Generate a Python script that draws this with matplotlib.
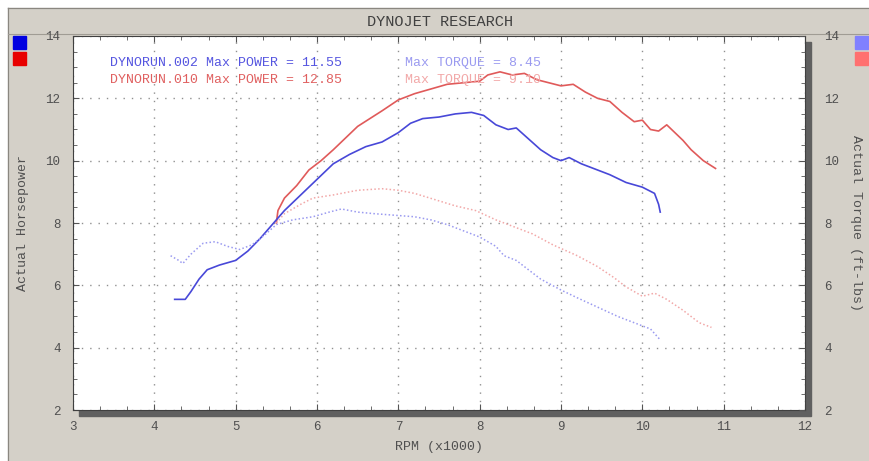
import numpy as np
import matplotlib.pyplot as plt
from matplotlib.patches import Rectangle
from matplotlib.lines import Line2D

# run 002 (blue) - power
rpm_p002 = [4.25, 4.38, 4.45, 4.55, 4.65, 4.8, 5.0, 5.15, 5.3, 5.45, 5.6, 5.8, 6.0, 6.2, 6.4,
            6.6, 6.8, 7.0, 7.15, 7.3, 7.5, 7.7, 7.9, 8.05, 8.2, 8.35, 8.45, 8.6, 8.75, 8.9,
            9.0, 9.1, 9.25, 9.4, 9.6, 9.8, 10.0, 10.15, 10.2, 10.22]
hp_002 = [5.55, 5.55, 5.8, 6.2, 6.5, 6.65, 6.8, 7.1, 7.5, 7.95, 8.4, 8.9, 9.4, 9.9, 10.2,
          10.45, 10.6, 10.9, 11.2, 11.35, 11.4, 11.5, 11.55, 11.45, 11.15, 11.0, 11.05, 10.7, 10.35, 10.1,
          10.0, 10.1, 9.9, 9.75, 9.55, 9.3, 9.15, 8.95, 8.6, 8.35]

# run 010 (red) - power
rpm_p010 = [5.5, 5.52, 5.6, 5.75, 5.9, 6.05, 6.2, 6.5, 6.8, 7.0, 7.2, 7.4, 7.6, 7.8, 8.0,
            8.1, 8.25, 8.4, 8.55, 8.7, 8.85, 9.0, 9.15, 9.3, 9.45, 9.6, 9.75, 9.9, 10.0, 10.1,
            10.2, 10.3, 10.4, 10.5, 10.6, 10.75, 10.9]
hp_010 = [8.0, 8.4, 8.8, 9.2, 9.7, 10.0, 10.35, 11.1, 11.6, 11.95, 12.15, 12.3, 12.45, 12.5, 12.55,
          12.75, 12.85, 12.75, 12.8, 12.6, 12.5, 12.4, 12.45, 12.2, 12.0, 11.9, 11.55, 11.25, 11.3, 11.0,
          10.95, 11.15, 10.9, 10.65, 10.35, 10.0, 9.75]

# torque curves
rpm_t002 = [4.2, 4.3, 4.35, 4.45, 4.6, 4.75, 4.9, 5.05, 5.2, 5.35, 5.5, 5.7, 5.95, 6.15, 6.3,
            6.5, 6.7, 6.95, 7.2, 7.4, 7.6, 7.8, 8.0, 8.2, 8.3, 8.45, 8.6, 8.75, 9.0, 9.2,
            9.45, 9.7, 9.95, 10.1, 10.22]
tq_002 = [6.95, 6.8, 6.7, 7.0, 7.35, 7.4, 7.25, 7.15, 7.3, 7.6, 7.95, 8.1, 8.2, 8.35, 8.45,
          8.35, 8.3, 8.25, 8.2, 8.1, 7.95, 7.75, 7.55, 7.25, 6.95, 6.8, 6.5, 6.2, 5.85, 5.6,
          5.3, 5.0, 4.75, 4.6, 4.25]

rpm_t010 = [5.5, 5.6, 5.8, 5.95, 6.2, 6.5, 6.8, 7.0, 7.2, 7.45, 7.7, 7.95, 8.2, 8.45, 8.65,
            8.9, 9.2, 9.45, 9.65, 9.8, 10.0, 10.15, 10.3, 10.5, 10.7, 10.85]
tq_010 = [8.0, 8.3, 8.6, 8.8, 8.9, 9.05, 9.1, 9.05, 8.95, 8.75, 8.55, 8.4, 8.1, 7.85, 7.65,
          7.3, 6.95, 6.6, 6.25, 5.95, 5.65, 5.75, 5.55, 5.2, 4.8, 4.65]

x_ticks = [3, 4, 5, 6, 7, 8, 9, 10, 11, 12]
y_ticks = [2, 4, 6, 8, 10, 12, 14]

BG = '#d4d0c8'
FONT = ['Liberation Mono', 'DejaVu Sans Mono']
plt.rcParams['font.family'] = FONT

W, H = 869, 461
fig = plt.figure(figsize=(W / 100, H / 100), dpi=100)
fig.patch.set_facecolor(BG)

def px(x0, y0, w, h):
    # pixel box (top-left origin) -> figure fraction rect
    return (x0 / W, 1 - (y0 + h) / H, w / W, h / H)

# white outer strips + border lines
fig.add_artist(Rectangle((0, 1 - 8 / H), 1, 8 / H, transform=fig.transFigure, color='white', zorder=0))
fig.add_artist(Rectangle((0, 0), 8 / W, 1, transform=fig.transFigure, color='white', zorder=0))
fig.add_artist(Line2D([8 / W, 1], [1 - 8 / H] * 2, transform=fig.transFigure, color='#8a8780', lw=1))
fig.add_artist(Line2D([8 / W] * 2, [0, 1 - 8 / H], transform=fig.transFigure, color='#8a8780', lw=1))
fig.add_artist(Line2D([8 / W, 1], [1 - 34 / H] * 2, transform=fig.transFigure, color='#a09c94', lw=0.8))
fig.text(440 / W, 1 - 22 / H, 'DYNOJET RESEARCH', ha='center', va='center', fontsize=11, color='#404040')

# plot area
L, T, R, B = 73, 36, 805, 410
# shadow
fig.add_artist(Rectangle(px(L + 6, T + 6, R - L, B - T)[:2], (R - L) / W, (B - T) / H,
                         transform=fig.transFigure, color='#606060', zorder=1))
ax = fig.add_axes(px(L, T, R - L, B - T))
ax.set_zorder(2)
ax.set_facecolor('white')
ax.set_xlim(3, 12)
ax.set_ylim(2, 14)
ax.set_xticks(x_ticks)
ax.set_yticks(y_ticks)
ax.set_xticks(np.arange(3, 12.01, 0.333333), minor=True)
ax.set_yticks(np.arange(2, 14.01, 0.5), minor=True)
ax.grid(True, which='major', color='#909090', linestyle=(0, (1, 5)), lw=1)
ax.tick_params(which='both', direction='in', colors='#555555', labelsize=9, labelcolor='#505050',
               top=True, right=False)
ax.tick_params(which='major', length=4)
ax.tick_params(axis='y', which='major', pad=9)
ax.tick_params(axis='x', which='major', pad=8)
ax.tick_params(which='minor', length=3)
for s in ax.spines.values():
    s.set_color('#404040')
    s.set_linewidth(0.8)
ax.set_xlabel('RPM (x1000)', fontsize=9.5, color='#505050', labelpad=6)
ax.set_ylabel('Actual Horsepower', fontsize=9.5, color='#505050', labelpad=12)

ax2 = ax.twinx()
ax2.set_ylim(2, 14)
ax2.set_yticks(y_ticks)
ax2.set_yticks(np.arange(2, 14.01, 0.5), minor=True)
ax2.tick_params(which='both', direction='in', colors='#555555', labelsize=9, labelcolor='#505050')
ax2.tick_params(which='major', length=4, pad=14)
ax2.tick_params(which='minor', length=3)
ax2.set_ylabel('Actual Torque (ft-lbs)', fontsize=9.5, color='#505050', rotation=270, labelpad=16)
for s in ax2.spines.values():
    s.set_visible(False)

# curves
ax2.plot(rpm_t002, tq_002, color='#9a9af0', lw=1.1, linestyle=(0, (1, 1.5)))
ax2.plot(rpm_t010, tq_010, color='#f2a8a8', lw=1.1, linestyle=(0, (1, 1.5)))
ax.plot(rpm_p010, hp_010, color='#e05a5a', lw=1.2)
ax.plot(rpm_p002, hp_002, color='#4848d8', lw=1.2)

# legend text
ax.text(3.45, 13.13, 'DYNORUN.002 Max POWER = 11.55', color='#5555e0', fontsize=9.5, va='center')
ax.text(7.08, 13.13, 'Max TORQUE = 8.45', color='#9a9af0', fontsize=9.5, va='center')
ax.text(3.45, 12.59, 'DYNORUN.010 Max POWER = 12.85', color='#e06060', fontsize=9.5, va='center')
ax.text(7.08, 12.59, 'Max TORQUE = 9.10', color='#f2a8a8', fontsize=9.5, va='center')

# colour keys
for (x0, y0, c) in [(13, 36, '#0000e0'), (13, 52, '#e80000'), (855, 36, '#8080ff'), (855, 52, '#ff7070')]:
    fig.add_artist(Rectangle(px(x0, y0, 13, 13)[:2], 13 / W, 13 / H, transform=fig.transFigure,
                             color=c, zorder=3))

fig.savefig('out.png', dpi=100, facecolor=BG)
